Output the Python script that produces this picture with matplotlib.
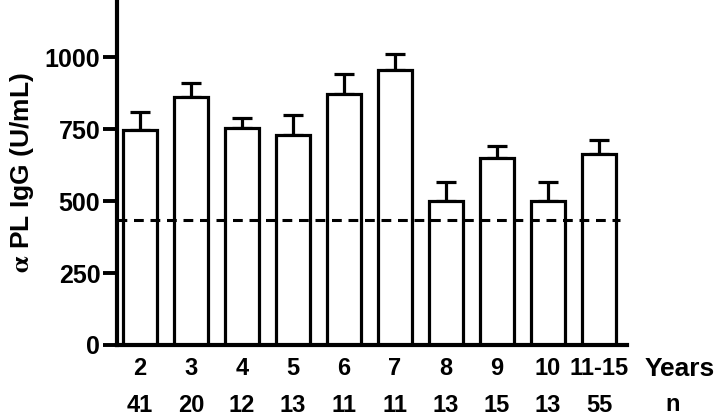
import numpy as np
import matplotlib
matplotlib.use("Agg")
from matplotlib import pyplot as plt

plt.rcParams['font.family'] = ['Liberation Sans', 'DejaVu Sans']
plt.rcParams['font.weight'] = 'bold'
plt.rcParams['mathtext.fontset'] = 'stix'

# data
years = ['2', '3', '4', '5', '6', '7', '8', '9', '10', '11-15']
n_obs = ['41', '20', '12', '13', '11', '11', '13', '15', '13', '55']
means = [748, 862, 756, 732, 872, 955, 501, 652, 501, 663]
sem = [62, 51, 33, 69, 71, 58, 66, 39, 66, 49]
cutoff = 436

fig = plt.figure(figsize=(7.2, 4.17), dpi=100)
ax = fig.add_axes([0.1625, 0.1727, 0.7083, 0.8273])

x = np.arange(len(years))
ax.bar(x, means, width=0.68, color='white', edgecolor='black',
       linewidth=2.3, zorder=2)
ax.errorbar(x, means, yerr=[np.zeros(len(sem)), sem], fmt='none',
            ecolor='black', elinewidth=2.3, capsize=7, capthick=2.3, zorder=1)

# dashed cut-off line
ax.axhline(cutoff, xmin=0, xmax=0.986, color='black', linewidth=2.2,
           dashes=(3.2, 2.2), zorder=3)

ax.set_xlim(-0.45, 9.55)
ax.set_ylim(0, 1200)
ax.set_yticks([0, 250, 500, 750, 1000])
ax.tick_params(axis='y', length=10, width=2.8, labelsize=18, pad=2)
ax.tick_params(axis='x', length=0, labelsize=17, pad=9)
ax.set_xticks(x)
ax.set_xticklabels(years)
for lab in ax.get_yticklabels() + ax.get_xticklabels():
    lab.set_fontweight('bold')

# n row under the year labels
for xi, nn in zip(x, n_obs):
    ax.text(xi, -0.175, nn, transform=ax.get_xaxis_transform(),
            ha='center', va='center', fontsize=17, fontweight='bold')

fig.text(0.944, 0.115, 'Years', ha='center', va='center', fontsize=19,
         fontweight='bold')
fig.text(0.934, 0.029, 'n', ha='center', va='center', fontsize=17,
         fontweight='bold')

ax.set_ylabel(r'$\mathrm{\alpha}$ PL IgG (U/mL)', fontsize=19,
              fontweight='bold', labelpad=6)

for s in ['top', 'right']:
    ax.spines[s].set_visible(False)
for s in ['left', 'bottom']:
    ax.spines[s].set_linewidth(3)

fig.savefig('out.png', dpi=100)
